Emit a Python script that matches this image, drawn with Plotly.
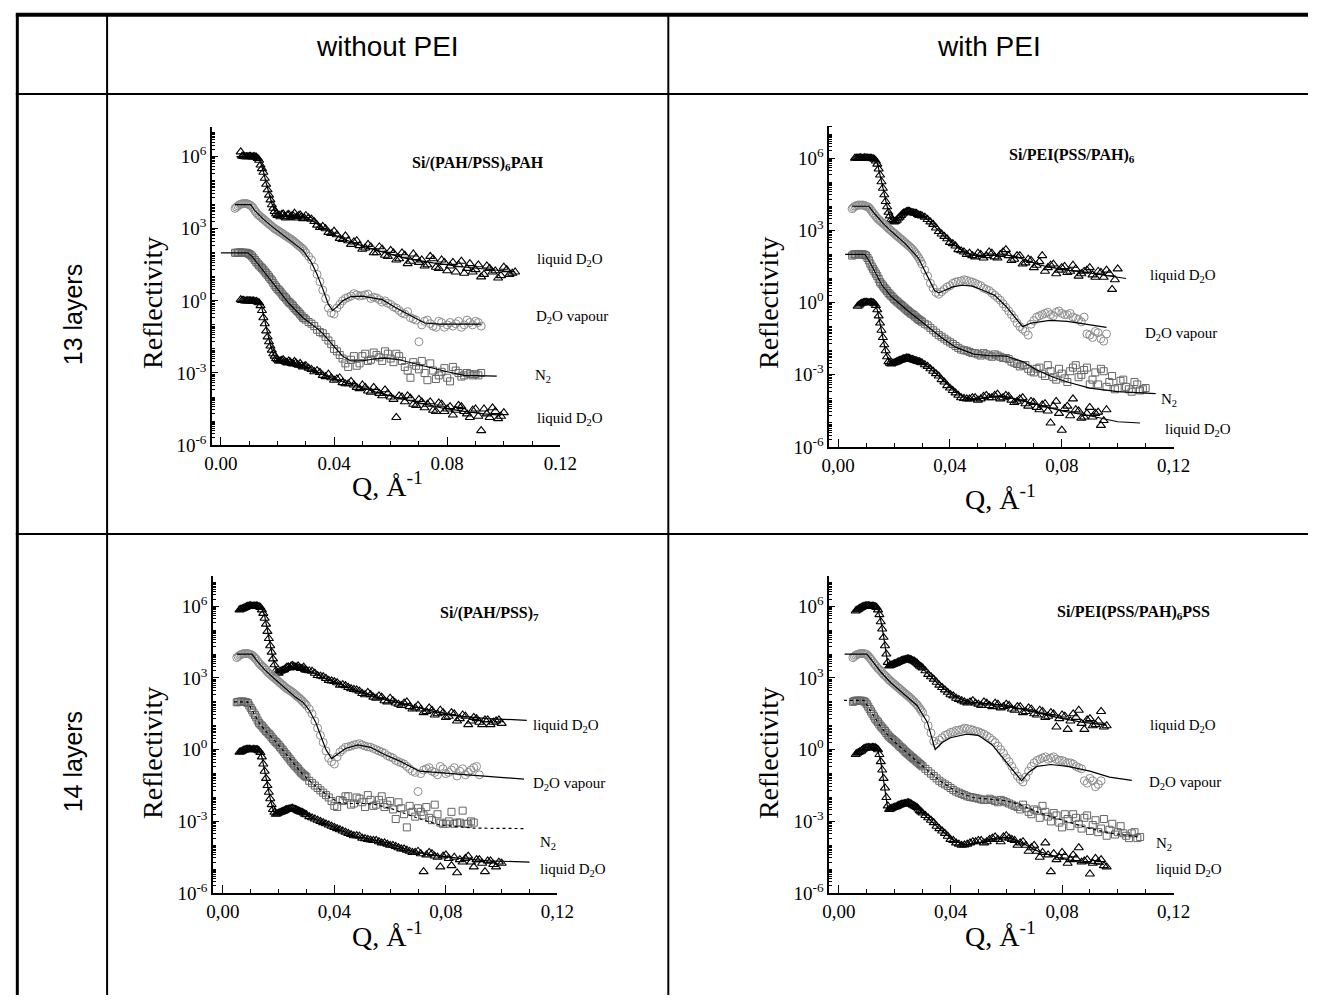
import plotly.graph_objects as go

# ---------------- Q grids (Å^-1) ----------------
Q_LO = [0.005, 0.006, 0.007, 0.008, 0.009, 0.010, 0.011, 0.012, 0.013, 0.014, 0.015, 0.016, 0.017,
        0.018, 0.019, 0.020, 0.021, 0.022, 0.023, 0.024, 0.025, 0.026, 0.027, 0.028, 0.029, 0.030]
Q_HI = [0.032, 0.034, 0.036, 0.038, 0.040, 0.042, 0.044, 0.046, 0.048, 0.050, 0.052, 0.054, 0.056,
        0.058, 0.060, 0.062, 0.064, 0.066, 0.068, 0.070, 0.072, 0.074, 0.076, 0.078, 0.080, 0.082,
        0.084, 0.086, 0.088, 0.090, 0.092, 0.094, 0.096, 0.098, 0.100, 0.102, 0.104, 0.106, 0.108, 0.110]
# second (interleaved) measurement run
Q_LO_B = [0.0055, 0.0065, 0.0075, 0.0085, 0.0095, 0.0105, 0.0115, 0.0125, 0.0135, 0.0145, 0.0155,
          0.0165, 0.0175, 0.0185, 0.0195, 0.0205, 0.0215, 0.0225, 0.0235, 0.0245, 0.0255, 0.0265,
          0.0275, 0.0285, 0.0295]
Q_HI_B = [0.031, 0.033, 0.035, 0.037, 0.039, 0.041, 0.043, 0.045, 0.047, 0.049, 0.051, 0.053, 0.055,
          0.057, 0.059, 0.061, 0.063, 0.065, 0.067, 0.069, 0.071, 0.073, 0.075, 0.077, 0.079, 0.081,
          0.083, 0.085, 0.087, 0.089, 0.091, 0.093, 0.095, 0.097, 0.099, 0.101, 0.103, 0.105, 0.107, 0.109]

# ================= Panel 1: Si/(PAH/PSS)6PAH  (log10 reflectivity) =================
p1_liqA_q0 = 0.007
p1_liqA_lo = [6.2, 6.02, 6.0, 6.01, 5.99, 6.0, 5.93, 5.65, 5.35, 4.85, 4.4, 4.0, 3.72, 3.55, 3.5, 3.62,
              3.45, 3.6, 3.52, 3.65, 3.5, 3.58, 3.42, 3.55]
p1_liqA_hi = [3.4, 3.15, 3.1, 2.85, 2.9, 2.6, 2.7, 2.35, 2.5, 2.15, 2.35, 2.0, 2.25, 1.9, 2.1, 1.7, 2.0,
              1.55, 1.95, 1.6, 1.45, 1.85, 1.4, 1.7, 1.25, 1.6, 1.5, 1.15, 1.55, 1.3, 1.0, 1.45, 1.2,
              0.95, 1.4, 1.1, 1.2]
p1_liqA_q0b = 0.0075
p1_liqA_lob = [6.02, 6.0, 6.0, 6.01, 6.0, 5.98, 5.85, 5.5, 5.1, 4.62, 4.2, 3.85, 3.62, 3.58, 3.6, 3.5,
               3.58, 3.48, 3.55, 3.45, 3.55, 3.5, 3.45]
p1_liqA_hib = [3.45, 3.3, 3.05, 3.0, 2.8, 2.75, 2.55, 2.5, 2.45, 2.3, 2.2, 2.25, 2.0, 2.15, 1.85, 2.0, 1.75,
               1.9, 1.65, 1.8, 1.7, 1.5, 1.75, 1.35, 1.6, 1.45, 1.2, 1.65, 1.35, 1.2, 1.5, 1.1, 1.35, 1.25,
               1.05, 1.3, 1.15]
p1_fitA_q = [0.0055, 0.012, 0.0135, 0.015, 0.016, 0.017, 0.018, 0.019, 0.020, 0.022, 0.026, 0.030, 0.034,
             0.040, 0.047, 0.055, 0.065, 0.075, 0.085, 0.095, 0.104]
p1_fitA_r = [6.0, 6.0, 5.95, 5.4, 4.9, 4.45, 4.05, 3.75, 3.6, 3.55, 3.55, 3.5, 3.2, 2.75, 2.4, 2.1, 1.78,
             1.58, 1.42, 1.3, 1.2]

p1_vap_q0 = 0.005
p1_vap_lo = [3.85, 3.95, 4.02, 4.05, 4.05, 4.0, 3.92, 3.75, 3.6, 3.5, 3.4, 3.3, 3.2, 3.1, 3.0, 2.93, 2.85,
             2.78, 2.7, 2.62, 2.55, 2.45, 2.35, 2.25, 2.15, 2.0]
p1_vap_hi = [1.7, 1.1, 0.45, -0.3, -0.55, -0.15, 0.1, 0.2, 0.25, 0.22, 0.28, 0.15, 0.05, 0.0, -0.15, -0.3,
             -0.5, -0.45, -0.75, -1.7, -0.85, -0.95, -1.1, -0.9, -1.0, -1.05, -0.85, -1.0, -0.9, -0.85, -1.05]
p1_vap_q0b = 0.0055
p1_vap_lob = [3.9, 4.0, 4.04, 4.05, 4.03, 3.97, 3.85, 3.68, 3.55, 3.45, 3.35, 3.25, 3.15, 3.05, 2.97, 2.9,
              2.82, 2.74, 2.66, 2.58, 2.5, 2.4, 2.3, 2.2, 2.08]
p1_vap_hib = [1.85, 1.4, 0.8, 0.1, -0.5, -0.3, 0.0, 0.15, 0.3, 0.2, 0.25, 0.1, 0.12, -0.05, -0.1, -0.25,
              -0.4, -0.55, -0.7, -0.8, -1.0, -0.8, -1.05, -0.85, -1.1, -0.9, -0.95, -1.1, -0.8, -1.0, -0.9]
p1_fitB_q = [0.005, 0.0105, 0.012, 0.015, 0.018, 0.022, 0.026, 0.029, 0.032, 0.034, 0.036, 0.038, 0.0395,
             0.041, 0.043, 0.046, 0.050, 0.057, 0.062, 0.067, 0.072, 0.077, 0.092]
p1_fitB_r = [4.0, 4.0, 3.75, 3.4, 3.1, 2.75, 2.4, 2.1, 1.6, 1.1, 0.5, -0.15, -0.4, -0.25, 0.0, 0.18, 0.2,
             0.05, -0.3, -0.62, -0.92, -0.97, -0.97]

p1_n2_q0 = 0.005
p1_n2_lo = [2.0, 2.0, 2.02, 2.0, 2.0, 1.95, 1.85, 1.7, 1.55, 1.42, 1.3, 1.15, 1.0, 0.85, 0.65, 0.5, 0.38,
            0.22, 0.1, -0.05, -0.15, -0.3, -0.42, -0.55, -0.7, -0.78]
p1_n2_hi = [-0.95, -1.2, -1.35, -1.65, -2.0, -2.25, -2.6, -2.45, -2.7, -2.3, -2.5, -2.15, -2.35, -2.1, -2.4,
            -2.2, -2.5, -2.9, -2.55, -2.85, -3.0, -2.6, -3.25, -2.95, -3.2, -2.75, -3.0, -3.1, -3.05, -3.05, -3.0]
p1_n2_q0b = 0.0055
p1_n2_lob = [2.0, 2.01, 2.0, 2.0, 1.98, 1.9, 1.78, 1.62, 1.48, 1.36, 1.22, 1.08, 0.92, 0.75, 0.58, 0.44,
             0.3, 0.16, 0.02, -0.1, -0.22, -0.36, -0.48, -0.62, -0.72]
p1_n2_hib = [-0.88, -1.05, -1.3, -1.5, -1.8, -2.1, -2.4, -2.75, -2.3, -2.6, -2.2, -2.45, -2.25, -2.5, -2.2,
             -2.55, -2.3, -2.75, -3.2, -2.7, -2.5, -3.3, -2.9, -3.1, -2.8, -3.35, -2.9, -3.15, -3.0, -3.1, -3.1]
p1_fitC_q = [0.0, 0.0095, 0.011, 0.013, 0.016, 0.020, 0.024, 0.029, 0.033, 0.036, 0.040, 0.043, 0.046,
             0.050, 0.054, 0.058, 0.063, 0.068, 0.074, 0.080, 0.086, 0.0975]
p1_fitC_r = [2.0, 2.0, 1.85, 1.55, 1.15, 0.5, -0.1, -0.7, -1.05, -1.35, -1.9, -2.3, -2.5, -2.5, -2.42,
             -2.38, -2.45, -2.6, -2.78, -2.95, -3.1, -3.13]

p1_liqD_q0 = 0.007
p1_liqD_lo = [0.05, 0.02, 0.0, 0.01, 0.0, -0.02, -0.05, -0.2, -0.7, -1.25, -1.7, -2.05, -2.3, -2.45, -2.5,
              -2.45, -2.55, -2.5, -2.6, -2.52, -2.65, -2.6, -2.75, -2.7]
p1_liqD_hi = [-2.85, -2.9, -3.1, -3.05, -3.3, -3.2, -3.45, -3.35, -3.6, -3.5, -3.75, -3.6, -3.85, -3.7, -4.0,
              -4.85, -4.0, -3.95, -4.3, -4.1, -4.45, -4.2, -4.6, -4.3, -4.5, -4.75, -4.35, -4.6, -4.85, -4.5,
              -5.4, -4.7, -4.45, -4.9, -4.65]
p1_liqD_q0b = 0.0075
p1_liqD_lob = [0.02, 0.0, 0.01, 0.0, 0.0, -0.02, -0.08, -0.4, -0.95, -1.5, -1.88, -2.2, -2.4, -2.5, -2.48,
               -2.52, -2.58, -2.55, -2.62, -2.58, -2.68, -2.7, -2.72]
p1_liqD_hib = [-2.8, -2.95, -2.98, -3.15, -3.2, -3.25, -3.4, -3.45, -3.5, -3.65, -3.6, -3.8, -3.75, -3.95,
               -3.85, -4.1, -3.95, -4.2, -4.05, -4.35, -4.2, -4.3, -4.55, -4.25, -4.6, -4.4, -4.55, -4.4,
               -4.7, -4.55, -4.8, -4.5, -4.85, -4.6, -4.8]
p1_fitD_q = [0.0065, 0.0135, 0.0145, 0.0155, 0.0165, 0.0175, 0.0185, 0.0195, 0.021, 0.024, 0.027, 0.030,
             0.035, 0.040, 0.047, 0.055, 0.063, 0.070, 0.078, 0.086, 0.093, 0.099]
p1_fitD_r = [0.0, 0.0, -0.3, -0.85, -1.4, -1.85, -2.2, -2.4, -2.5, -2.55, -2.62, -2.75, -3.0, -3.25, -3.5,
             -3.8, -4.05, -4.25, -4.45, -4.6, -4.7, -4.75]

# ================= Panel 2: Si/PEI(PSS/PAH)6 =================
p2_liqA_q0 = 0.006
p2_liqA_lo = [6.0, 6.0, 6.02, 6.0, 6.01, 6.0, 5.99, 5.95, 5.75, 5.3, 4.75, 4.2, 3.75, 3.45, 3.35, 3.42,
              3.55, 3.68, 3.75, 3.8, 3.76, 3.72, 3.7, 3.62, 3.6]
p2_liqA_hi = [3.45, 3.25, 2.95, 2.75, 2.5, 2.35, 2.15, 2.0, 1.95, 2.05, 1.85, 2.1, 1.9, 2.0, 2.2, 1.75, 1.95,
              1.6, 1.8, 1.45, 1.7, 1.3, 1.55, 1.2, 1.45, 1.25, 1.55, 1.1, 1.3, 1.45, 1.05, 1.25, 1.35, 0.55,
              1.4]
p2_liqA_q0b = 0.0065
p2_liqA_lob = [6.0, 6.01, 6.0, 6.02, 6.0, 6.0, 5.98, 5.88, 5.55, 5.02, 4.48, 3.98, 3.6, 3.4, 3.38, 3.5,
               3.62, 3.72, 3.78, 3.79, 3.74, 3.71, 3.66, 3.62]
p2_liqA_hib = [3.55, 3.35, 3.1, 2.85, 2.65, 2.45, 2.2, 2.1, 2.05, 1.9, 2.0, 1.95, 2.05, 1.85, 2.1, 1.95, 1.8,
               1.95, 1.65, 1.75, 1.55, 1.95, 1.45, 1.6, 1.35, 1.5, 1.3, 1.4, 1.2, 1.35, 1.15, 1.3, 1.05, 1.2,
               0.95]
p2_fitA_q = [0.006, 0.013, 0.014, 0.015, 0.016, 0.017, 0.018, 0.019, 0.020, 0.022, 0.024, 0.026, 0.029,
             0.032, 0.035, 0.038, 0.0415, 0.045, 0.048, 0.052, 0.056, 0.060, 0.064, 0.068, 0.072, 0.080,
             0.090, 0.103]
p2_fitA_r = [6.0, 6.0, 5.8, 5.3, 4.75, 4.2, 3.75, 3.45, 3.38, 3.55, 3.72, 3.78, 3.7, 3.45, 3.1, 2.75, 2.4,
             2.1, 1.98, 1.95, 1.97, 1.98, 1.9, 1.72, 1.56, 1.38, 1.23, 1.0]

p2_vap_q0 = 0.005
p2_vap_lo = [3.9, 4.0, 4.05, 4.05, 4.05, 4.0, 3.95, 3.8, 3.65, 3.5, 3.4, 3.3, 3.2, 3.08, 2.98, 2.88, 2.78,
             2.68, 2.58, 2.48, 2.38, 2.28, 2.15, 2.0, 1.82, 1.6]
p2_vap_hi = [1.1, 0.6, 0.35, 0.55, 0.7, 0.85, 0.9, 0.92, 0.85, 0.75, 0.6, 0.5, 0.3, 0.1, -0.2, -0.5, -0.85,
             -1.1, -1.35, -0.75, -0.55, -0.45, -0.5, -0.4, -0.45, -0.5, -0.6, -0.7, -0.6, -1.35, -1.2, -1.5,
             -1.3]
p2_vap_q0b = 0.0055
p2_vap_lob = [3.95, 4.02, 4.05, 4.05, 4.03, 3.98, 3.88, 3.72, 3.58, 3.45, 3.35, 3.25, 3.14, 3.03, 2.93,
              2.83, 2.73, 2.63, 2.53, 2.43, 2.33, 2.22, 2.08, 1.92, 1.72]
p2_vap_hib = [1.35, 0.8, 0.42, 0.45, 0.65, 0.8, 0.88, 0.95, 0.88, 0.8, 0.7, 0.55, 0.4, 0.2, -0.05, -0.35,
              -0.65, -1.0, -1.2, -0.9, -0.6, -0.5, -0.4, -0.55, -0.35, -0.5, -0.45, -0.65, -0.8, -1.3, -1.45,
              -1.25, -1.6]
p2_fitB_q = [0.005, 0.011, 0.013, 0.016, 0.019, 0.024, 0.0287, 0.031, 0.033, 0.0345, 0.036, 0.038, 0.041,
             0.0445, 0.048, 0.052, 0.056, 0.060, 0.063, 0.066, 0.069, 0.0757, 0.082, 0.089, 0.096]
p2_fitB_r = [4.0, 4.0, 3.7, 3.3, 2.96, 2.45, 1.85, 1.35, 0.85, 0.5, 0.4, 0.5, 0.65, 0.72, 0.68, 0.5, 0.3,
             -0.15, -0.6, -1.0, -0.85, -0.74, -0.78, -0.9, -1.03]

p2_n2_q0 = 0.005
p2_n2_lo = [1.95, 2.0, 2.02, 2.0, 2.0, 1.95, 1.75, 1.5, 1.3, 1.1, 0.85, 0.7, 0.55, 0.4, 0.28, 0.15, 0.05,
            -0.05, -0.15, -0.25, -0.35, -0.45, -0.52, -0.62, -0.72, -0.8]
p2_n2_hi = [-0.95, -1.15, -1.35, -1.5, -1.65, -1.8, -1.95, -2.0, -2.1, -2.15, -2.1, -2.2, -2.15, -2.25, -2.3,
            -2.45, -2.55, -2.6, -2.75, -2.9, -2.7, -3.05, -2.85, -3.2, -2.95, -3.3, -2.7, -3.1, -2.8, -3.4,
            -2.9, -2.75, -3.5, -3.05, -3.55, -3.2, -3.6, -3.3, -3.65, -3.55]
p2_n2_q0b = 0.0055
p2_n2_lob = [2.0, 2.01, 2.0, 2.01, 1.98, 1.85, 1.62, 1.4, 1.2, 0.98, 0.78, 0.62, 0.48, 0.34, 0.22, 0.1, 0.0,
             -0.1, -0.2, -0.3, -0.4, -0.48, -0.58, -0.68, -0.75]
p2_n2_hib = [-0.88, -1.05, -1.25, -1.42, -1.58, -1.72, -1.88, -1.98, -2.05, -2.1, -2.2, -2.15, -2.25, -2.2,
             -2.3, -2.35, -2.5, -2.65, -2.6, -2.85, -2.75, -2.95, -2.6, -3.1, -2.75, -3.15, -2.85, -2.6, -3.0,
             -2.7, -3.2, -3.4, -2.85, -3.3, -3.6, -3.25, -3.5, -3.7, -3.4, -3.6]
p2_fitC_q = [0.0025, 0.0096, 0.011, 0.013, 0.0156, 0.019, 0.025, 0.031, 0.0368, 0.042, 0.0485, 0.054,
             0.060, 0.066, 0.071, 0.077, 0.082, 0.090, 0.100, 0.1136]
p2_fitC_r = [2.0, 2.0, 1.75, 1.3, 0.74, 0.25, -0.35, -0.9, -1.44, -1.85, -2.14, -2.2, -2.22, -2.45, -2.8,
             -3.1, -3.3, -3.55, -3.7, -3.78]

p2_liqD_q0 = 0.007
p2_liqD_lo = [-0.15, -0.05, 0.0, 0.02, 0.0, 0.01, -0.05, -0.3, -0.85, -1.45, -2.0, -2.45, -2.55, -2.5, -2.45,
              -2.4, -2.35, -2.32, -2.3, -2.35, -2.38, -2.42, -2.45, -2.5]
p2_liqD_hi = [-2.65, -2.85, -3.05, -3.3, -3.55, -3.75, -3.95, -4.0, -3.95, -4.05, -3.9, -3.95, -3.85, -4.0,
              -3.85, -4.05, -4.1, -3.95, -4.3, -4.15, -4.45, -4.2, -5.0, -4.1, -5.3, -4.3, -4.0, -4.5, -4.75,
              -4.35, -4.6, -5.1, -4.45]
p2_liqD_q0b = 0.0075
p2_liqD_lob = [-0.1, -0.02, 0.01, 0.0, 0.01, 0.0, -0.12, -0.55, -1.15, -1.75, -2.25, -2.52, -2.52, -2.48,
               -2.42, -2.38, -2.33, -2.3, -2.32, -2.36, -2.4, -2.44, -2.48]
p2_liqD_hib = [-2.58, -2.75, -2.95, -3.2, -3.45, -3.65, -3.85, -3.98, -4.0, -3.95, -4.0, -3.85, -3.95, -3.8,
               -3.95, -3.9, -4.15, -4.0, -4.2, -4.1, -4.35, -4.25, -4.5, -4.3, -4.6, -4.4, -4.7, -4.45, -4.8,
               -4.6, -4.75, -4.55, -4.9]
p2_fitD_q = [0.0067, 0.013, 0.014, 0.015, 0.016, 0.017, 0.0184, 0.020, 0.0225, 0.025, 0.028, 0.032, 0.036,
             0.0415, 0.046, 0.050, 0.055, 0.060, 0.065, 0.072, 0.080, 0.090, 0.100, 0.108]
p2_fitD_r = [0.0, 0.0, -0.3, -0.9, -1.5, -2.05, -2.5, -2.5, -2.38, -2.33, -2.4, -2.65, -3.05, -3.65, -3.98,
             -4.0, -3.9, -3.9, -4.05, -4.25, -4.5, -4.7, -4.95, -5.0]

# ================= Panel 3: Si/(PAH/PSS)7 =================
p3_liqA_q0 = 0.006
p3_liqA_lo = [5.85, 5.9, 5.95, 6.0, 6.02, 6.0, 6.01, 5.98, 5.85, 5.5, 4.95, 4.35, 3.8, 3.3, 3.2, 3.3, 3.35,
              3.45, 3.42, 3.52, 3.45, 3.5, 3.4, 3.45, 3.32]
p3_liqA_hi = [3.28, 3.1, 3.05, 2.9, 2.85, 2.7, 2.68, 2.55, 2.5, 2.35, 2.4, 2.2, 2.25, 2.05, 2.15, 1.95, 1.85,
              2.0, 1.7, 1.85, 1.55, 1.75, 1.45, 1.65, 1.35, 1.55, 1.2, 1.45, 1.05, 1.35, 1.15, 1.25, 1.05,
              1.2, 1.1]
p3_liqA_q0b = 0.0065
p3_liqA_lob = [5.88, 5.92, 5.98, 6.01, 6.0, 6.01, 6.0, 5.95, 5.7, 5.25, 4.65, 4.08, 3.55, 3.22, 3.28, 3.32,
               3.4, 3.46, 3.5, 3.48, 3.45, 3.43, 3.4, 3.35]
p3_liqA_hib = [3.3, 3.2, 3.08, 2.98, 2.88, 2.8, 2.72, 2.6, 2.52, 2.45, 2.3, 2.3, 2.15, 2.2, 2.0, 2.05, 1.9,
               1.95, 1.8, 1.75, 1.7, 1.6, 1.65, 1.5, 1.55, 1.4, 1.5, 1.3, 1.4, 1.2, 1.3, 1.05, 1.25, 1.15,
               1.25]
p3_fitA_q = [0.0055, 0.0137, 0.015, 0.016, 0.017, 0.018, 0.0193, 0.021, 0.023, 0.025, 0.028, 0.032, 0.036,
             0.042, 0.0474, 0.055, 0.065, 0.0755, 0.085, 0.095, 0.109]
p3_fitA_r = [6.0, 6.0, 5.6, 5.0, 4.4, 3.8, 3.25, 3.3, 3.42, 3.5, 3.42, 3.25, 3.02, 2.75, 2.5, 2.2, 1.9, 1.6,
             1.4, 1.3, 1.23]

p3_vap_q0 = 0.005
p3_vap_lo = [3.85, 3.95, 4.0, 4.02, 4.02, 3.98, 3.9, 3.78, 3.62, 3.5, 3.4, 3.25, 3.15, 3.05, 2.95, 2.85,
             2.75, 2.65, 2.55, 2.48, 2.4, 2.3, 2.2, 2.1, 1.98, 1.85]
p3_vap_hi = [1.5, 0.9, 0.3, -0.35, -0.6, -0.1, 0.1, 0.15, 0.22, 0.2, 0.12, 0.05, -0.05, -0.15, -0.3, -0.45,
             -0.55, -0.7, -0.9, -1.75, -0.85, -0.75, -0.95, -0.7, -1.0, -0.85, -1.1, -0.8, -0.95, -0.75, -1.05]
p3_vap_q0b = 0.0055
p3_vap_lob = [3.9, 3.98, 4.02, 4.02, 4.0, 3.95, 3.84, 3.7, 3.56, 3.45, 3.33, 3.2, 3.1, 3.0, 2.9, 2.8, 2.7,
              2.6, 2.52, 2.44, 2.35, 2.25, 2.15, 2.04, 1.92]
p3_vap_hib = [1.7, 1.2, 0.6, -0.05, -0.5, -0.3, 0.0, 0.12, 0.2, 0.25, 0.15, 0.1, 0.0, -0.1, -0.25, -0.35,
              -0.5, -0.6, -0.8, -0.95, -1.0, -0.8, -0.9, -1.05, -0.8, -0.95, -0.75, -0.9, -1.05, -0.85, -0.7]
p3_fitB_q = [0.005, 0.0105, 0.012, 0.015, 0.018, 0.022, 0.026, 0.0288, 0.031, 0.0333, 0.035, 0.037, 0.039,
             0.041, 0.044, 0.0484, 0.053, 0.058, 0.0639, 0.0705, 0.081, 0.095, 0.108]
p3_fitB_r = [4.0, 4.0, 3.75, 3.35, 3.02, 2.6, 2.2, 1.98, 1.65, 1.15, 0.6, 0.0, -0.37, -0.2, 0.05, 0.2, 0.1,
             -0.2, -0.5, -0.9, -0.99, -1.12, -1.23]

p3_n2_q0 = 0.005
p3_n2_lo = [1.98, 2.0, 2.02, 2.0, 1.95, 1.75, 1.55, 1.35, 1.12, 1.0, 0.85, 0.72, 0.6, 0.45, 0.32, 0.2, 0.05,
            -0.1, -0.25, -0.4, -0.55, -0.68, -0.8, -0.95, -1.05, -1.15]
p3_n2_hi = [-1.4, -1.6, -1.8, -2.0, -2.35, -2.1, -1.95, -2.3, -2.0, -2.2, -1.9, -2.35, -2.1, -2.4, -2.15,
            -2.9, -2.45, -3.25, -2.6, -2.45, -2.75, -2.85, -2.3, -3.05, -3.1, -2.6, -3.05, -2.55, -3.1, -3.05]
p3_n2_q0b = 0.0055
p3_n2_lob = [2.0, 2.01, 2.0, 1.98, 1.85, 1.65, 1.45, 1.22, 1.05, 0.92, 0.78, 0.66, 0.52, 0.38, 0.26, 0.12,
             -0.02, -0.18, -0.32, -0.48, -0.62, -0.74, -0.88, -1.0, -1.1]
p3_n2_hib = [-1.3, -1.5, -1.7, -1.9, -2.15, -2.4, -2.15, -1.95, -2.25, -2.05, -2.4, -2.1, -2.3, -1.95, -2.3,
             -2.5, -2.2, -2.7, -2.35, -2.8, -2.6, -2.4, -2.95, -2.7, -3.1, -3.0, -3.1, -3.05, -3.1, -3.0]
p3_fitC_q = [0.004, 0.0088, 0.011, 0.0134, 0.016, 0.019, 0.0235, 0.0284, 0.032, 0.0354, 0.0385, 0.0414,
             0.045, 0.050, 0.055, 0.060, 0.066, 0.072, 0.078, 0.090, 0.108]
p3_fitC_r = [2.0, 2.0, 1.55, 1.05, 0.7, 0.33, -0.3, -1.0, -1.4, -1.73, -2.0, -2.2, -2.25, -2.25, -2.3, -2.45,
             -2.7, -2.95, -3.15, -3.28, -3.3]

p3_liqD_q0 = 0.006
p3_liqD_lo = [-0.1, -0.05, 0.0, 0.02, 0.0, 0.01, 0.0, -0.05, -0.3, -0.9, -1.5, -2.05, -2.5, -2.7, -2.65,
              -2.6, -2.55, -2.5, -2.48, -2.45, -2.5, -2.55, -2.6, -2.65, -2.72]
p3_liqD_hi = [-2.85, -2.95, -3.05, -3.15, -3.25, -3.35, -3.45, -3.55, -3.6, -3.7, -3.75, -3.8, -3.85, -3.9,
              -4.0, -4.05, -4.15, -4.2, -4.3, -4.25, -5.1, -4.3, -4.45, -4.9, -4.4, -4.85, -5.15, -4.7, -4.45,
              -4.9, -4.6, -5.1, -4.65, -4.9, -4.75]
p3_liqD_q0b = 0.0065
p3_liqD_lob = [-0.08, -0.02, 0.01, 0.02, 0.0, 0.01, 0.0, -0.12, -0.6, -1.2, -1.78, -2.3, -2.62, -2.68, -2.62,
               -2.58, -2.52, -2.49, -2.46, -2.48, -2.52, -2.58, -2.62, -2.7]
p3_liqD_hib = [-2.8, -2.9, -3.0, -3.1, -3.2, -3.3, -3.4, -3.5, -3.6, -3.62, -3.72, -3.78, -3.8, -3.9, -3.95,
               -4.0, -4.1, -4.15, -4.25, -4.3, -4.35, -4.4, -4.35, -4.5, -4.45, -4.55, -4.5, -4.6, -4.55,
               -4.7, -4.6, -4.75, -4.65, -4.8, -4.7]
p3_fitD_q = [0.0055, 0.013, 0.014, 0.015, 0.016, 0.017, 0.018, 0.019, 0.021, 0.023, 0.025, 0.028, 0.032,
             0.0358, 0.041, 0.047, 0.053, 0.059, 0.068, 0.075, 0.085, 0.095, 0.110]
p3_fitD_r = [0.0, 0.0, -0.3, -0.9, -1.5, -2.05, -2.5, -2.67, -2.6, -2.5, -2.47, -2.6, -2.85, -3.05, -3.3,
             -3.6, -3.75, -3.9, -4.25, -4.4, -4.55, -4.65, -4.7]

# ================= Panel 4: Si/PEI(PSS/PAH)6PSS =================
p4_liqA_q0 = 0.006
p4_liqA_lo = [5.8, 5.88, 5.95, 6.0, 6.02, 6.01, 6.0, 5.98, 5.85, 5.35, 4.7, 4.0, 3.5, 3.55, 3.6, 3.65, 3.7,
              3.75, 3.78, 3.8, 3.75, 3.7, 3.62, 3.5, 3.42]
p4_liqA_hi = [3.15, 2.95, 2.7, 2.5, 2.3, 2.15, 2.05, 1.95, 2.05, 1.9, 2.0, 1.85, 1.95, 1.75, 1.9, 1.7, 1.8,
              1.55, 1.75, 1.5, 1.65, 1.35, 1.55, 0.95, 1.45, 0.85, 1.5, 1.65, 0.85, 1.3, 1.05, 1.6, 1.0]
p4_liqA_q0b = 0.0065
p4_liqA_lob = [5.85, 5.92, 5.98, 6.01, 6.02, 6.0, 6.0, 5.95, 5.65, 5.05, 4.35, 3.65, 3.52, 3.58, 3.62, 3.68,
               3.72, 3.76, 3.8, 3.78, 3.72, 3.66, 3.56, 3.46]
p4_liqA_hib = [3.3, 3.05, 2.82, 2.6, 2.4, 2.25, 2.1, 2.0, 2.0, 1.95, 1.85, 1.95, 1.8, 1.9, 1.8, 1.85, 1.65,
               1.8, 1.6, 1.7, 1.45, 1.6, 1.4, 1.5, 1.3, 1.4, 1.2, 1.35, 1.1, 1.25, 1.0, 1.2, 0.95]
p4_fitA_q = [0.0063, 0.008, 0.0137, 0.015, 0.016, 0.017, 0.0176, 0.019, 0.0215, 0.0246, 0.028, 0.0317,
             0.036, 0.041, 0.045, 0.048, 0.054, 0.060, 0.065, 0.0704, 0.078, 0.087, 0.096]
p4_fitA_r = [5.85, 6.0, 6.0, 5.4, 4.75, 4.0, 3.5, 3.55, 3.7, 3.8, 3.6, 3.2, 2.7, 2.26, 2.05, 1.98, 1.9,
             1.85, 1.72, 1.56, 1.35, 1.15, 1.03]

p4_vap_q0 = 0.005
p4_vap_lo = [3.85, 3.95, 4.0, 4.02, 4.02, 3.98, 3.85, 3.7, 3.55, 3.4, 3.3, 3.15, 3.05, 2.92, 2.82, 2.72,
             2.62, 2.52, 2.42, 2.32, 2.22, 2.12, 2.0, 1.88, 1.72, 1.55]
p4_vap_hi = [1.0, 0.35, 0.4, 0.6, 0.72, 0.8, 0.85, 0.88, 0.82, 0.75, 0.65, 0.5, 0.3, 0.0, -0.35, -0.7, -1.1,
             -1.35, -0.9, -0.55, -0.4, -0.3, -0.35, -0.4, -0.45, -0.55, -0.6, -0.75, -1.3, -1.2, -1.55,
             -1.3]
p4_vap_q0b = 0.0055
p4_vap_lob = [3.9, 3.98, 4.02, 4.02, 4.0, 3.92, 3.78, 3.62, 3.48, 3.35, 3.22, 3.1, 2.98, 2.87, 2.77, 2.67,
              2.57, 2.47, 2.37, 2.27, 2.17, 2.06, 1.94, 1.8, 1.64]
p4_vap_hib = [1.3, 0.7, 0.25, 0.5, 0.65, 0.75, 0.82, 0.9, 0.85, 0.78, 0.7, 0.58, 0.4, 0.15, -0.15, -0.5,
              -0.9, -1.25, -1.15, -0.7, -0.45, -0.35, -0.4, -0.3, -0.45, -0.5, -0.55, -0.7, -0.8, -1.4, -1.3,
              -1.45]
p4_fitB_q = [0.002, 0.010, 0.012, 0.015, 0.0186, 0.023, 0.028, 0.0317, 0.033, 0.0345, 0.037, 0.040, 0.0457,
             0.050, 0.055, 0.060, 0.063, 0.0655, 0.068, 0.071, 0.076, 0.082, 0.090, 0.097, 0.105]
p4_fitB_r = [4.0, 4.0, 3.7, 3.25, 2.8, 2.35, 1.85, 1.15, 0.6, 0.0, 0.3, 0.5, 0.65, 0.6, 0.2, -0.49, -0.95,
             -1.3, -0.95, -0.7, -0.62, -0.7, -0.9, -1.15, -1.28]

p4_n2_q0 = 0.005
p4_n2_lo = [2.0, 2.05, 2.05, 2.05, 2.02, 1.9, 1.7, 1.5, 1.3, 1.15, 0.98, 0.85, 0.7, 0.55, 0.45, 0.35, 0.25,
            0.12, 0.02, -0.1, -0.2, -0.3, -0.4, -0.5, -0.6, -0.7]
p4_n2_hi = [-0.9, -1.1, -1.3, -1.45, -1.6, -1.75, -1.85, -1.95, -2.0, -2.05, -2.1, -2.05, -2.15, -2.1, -2.2,
            -2.3, -2.4, -2.3, -2.6, -2.5, -2.85, -2.6, -3.0, -2.75, -3.25, -2.9, -2.7, -3.1, -2.85, -3.4,
            -2.95, -3.3, -3.6, -3.1, -3.45, -3.5, -3.7, -3.45, -3.65]
p4_n2_q0b = 0.0055
p4_n2_lob = [2.03, 2.05, 2.05, 2.04, 1.98, 1.8, 1.6, 1.4, 1.22, 1.06, 0.92, 0.78, 0.62, 0.5, 0.4, 0.3, 0.18,
             0.08, -0.04, -0.15, -0.25, -0.35, -0.45, -0.55, -0.65]
p4_n2_hib = [-0.8, -1.0, -1.2, -1.38, -1.52, -1.68, -1.8, -1.9, -1.98, -2.02, -2.08, -2.1, -2.1, -2.2, -2.15,
             -2.25, -2.35, -2.5, -2.45, -2.7, -2.55, -2.35, -2.8, -2.65, -3.05, -2.7, -3.2, -2.85, -3.3,
             -2.75, -3.15, -3.45, -2.9, -3.35, -3.55, -3.2, -3.6, -3.5, -3.7]
p4_fitC_q = [0.0018, 0.009, 0.012, 0.015, 0.0187, 0.023, 0.028, 0.0362, 0.042, 0.048, 0.054, 0.060, 0.065,
             0.070, 0.076, 0.083, 0.090, 0.098, 0.108]
p4_fitC_r = [2.06, 2.06, 1.5, 0.95, 0.45, 0.0, -0.49, -1.3, -1.75, -2.0, -2.08, -2.14, -2.3, -2.55, -2.8,
             -3.05, -3.3, -3.5, -3.66]

p4_liqD_q0 = 0.006
p4_liqD_lo = [-0.2, -0.12, -0.05, 0.05, 0.08, 0.08, 0.1, 0.08, 0.0, -0.5, -1.2, -2.0, -2.5, -2.45, -2.4,
              -2.35, -2.3, -2.27, -2.25, -2.22, -2.28, -2.35, -2.42, -2.55, -2.65]
p4_liqD_hi = [-2.85, -3.05, -3.3, -3.5, -3.75, -3.9, -4.0, -3.95, -3.85, -3.8, -3.9, -3.75, -3.65, -3.85,
              -3.6, -3.75, -4.0, -3.85, -4.25, -4.0, -4.5, -3.9, -5.1, -4.6, -4.3, -4.75, -4.4, -4.1, -4.65,
              -5.2, -4.55, -4.6, -4.9]
p4_liqD_q0b = 0.0065
p4_liqD_lob = [-0.15, -0.08, 0.0, 0.06, 0.09, 0.08, 0.09, 0.05, -0.2, -0.85, -1.6, -2.35, -2.48, -2.42,
               -2.38, -2.32, -2.28, -2.26, -2.23, -2.25, -2.32, -2.38, -2.48, -2.6]
p4_liqD_hib = [-2.75, -2.95, -3.2, -3.4, -3.62, -3.8, -3.95, -3.98, -3.9, -3.85, -3.8, -3.85, -3.7, -3.75,
               -3.65, -3.7, -3.8, -3.9, -4.0, -4.1, -4.25, -4.3, -4.4, -4.35, -4.5, -4.45, -4.6, -4.55, -4.7,
               -4.6, -4.75, -4.7, -4.85]
p4_fitD_q = [0.0056, 0.009, 0.0137, 0.015, 0.016, 0.0176, 0.020, 0.0246, 0.028, 0.0317, 0.036, 0.041,
             0.0457, 0.050, 0.055, 0.060, 0.065, 0.0704, 0.078, 0.086, 0.095]
p4_fitD_r = [-0.2, 0.08, 0.08, -0.5, -1.3, -2.55, -2.38, -2.22, -2.4, -2.84, -3.3, -3.79, -3.99, -3.9,
             -3.72, -3.66, -3.85, -4.2, -4.5, -4.7, -4.8]

# ---------------- text ----------------
col_headers = ["without PEI", "with PEI"]
row_headers = ["13 layers", "14 layers"]
panel_titles = ["Si/(PAH/PSS)<sub>6</sub>PAH", "Si/PEI(PSS/PAH)<sub>6</sub>",
                "Si/(PAH/PSS)<sub>7</sub>", "Si/PEI(PSS/PAH)<sub>6</sub>PSS"]
liq = "liquid D<sub>2</sub>O"
vap = "D<sub>2</sub>O vapour"
n2 = "N<sub>2</sub>"
x_tick_vals = [0.0, 0.04, 0.08, 0.12]
x_tick_dot = ["0.00", "0.04", "0.08", "0.12"]
x_tick_comma = ["0,00", "0,04", "0,08", "0,12"]
y_tick_exps = [-6, -3, 0, 3, 6]

# ---------------- layout geometry (pixels) ----------------
W, H = 1325, 1006
SERIF = "Liberation Serif, Times New Roman, serif"
SANS = "Liberation Sans, Arial, sans-serif"


def fx(px):
    return px / W


def fy(py):
    return 1 - py / H


def ser(q0, lo, hi, q0b, lob, hib, kind):
    return dict(q0=q0, lo=lo, hi=hi, q0b=q0b, lob=lob, hib=hib, kind=kind)


panels = [
    dict(xd=(208, 563), yd=(128, 450), xr=-0.00313, yt=7.25, ticks=x_tick_dot,
         series=[ser(p1_liqA_q0, p1_liqA_lo, p1_liqA_hi, p1_liqA_q0b, p1_liqA_lob, p1_liqA_hib, "tri"),
                 ser(p1_vap_q0, p1_vap_lo, p1_vap_hi, p1_vap_q0b, p1_vap_lob, p1_vap_hib, "circ"),
                 ser(p1_n2_q0, p1_n2_lo, p1_n2_hi, p1_n2_q0b, p1_n2_lob, p1_n2_hib, "sq"),
                 ser(p1_liqD_q0, p1_liqD_lo, p1_liqD_hi, p1_liqD_q0b, p1_liqD_lob, p1_liqD_hib, "tri")],
         fits=[(p1_fitA_q, p1_fitA_r, "solid"), (p1_fitB_q, p1_fitB_r, "solid"),
               (p1_fitC_q, p1_fitC_r, "solid"), (p1_fitD_q, p1_fitD_r, "solid")],
         title=(panel_titles[0], 410, 165),
         labels=[(liq, 537, 263), (vap, 536, 320), (n2, 535, 380), (liq, 537, 424)],
         ylab=(147, 306), xlab=(387, 490)),
    dict(xd=(837, 1188), yd=(127, 452), xr=-0.0032, yt=7.35, ticks=x_tick_comma,
         series=[ser(p2_liqA_q0, p2_liqA_lo, p2_liqA_hi, p2_liqA_q0b, p2_liqA_lob, p2_liqA_hib, "tri"),
                 ser(p2_vap_q0, p2_vap_lo, p2_vap_hi, p2_vap_q0b, p2_vap_lob, p2_vap_hib, "circ"),
                 ser(p2_n2_q0, p2_n2_lo, p2_n2_hi, p2_n2_q0b, p2_n2_lob, p2_n2_hib, "sq"),
                 ser(p2_liqD_q0, p2_liqD_lo, p2_liqD_hi, p2_liqD_q0b, p2_liqD_lob, p2_liqD_hib, "tri")],
         fits=[(p2_fitA_q, p2_fitA_r, "solid"), (p2_fitB_q, p2_fitB_r, "solid"),
               (p2_fitC_q, p2_fitC_r, "solid"), (p2_fitD_q, p2_fitD_r, "solid")],
         title=(panel_titles[1], 1018, 157),
         labels=[(liq, 1162, 279), (vap, 1157, 338), (n2, 1173, 404), (liq, 1177, 435)],
         ylab=(775, 306), xlab=(1012, 503)),
    dict(xd=(209, 560), yd=(582, 903), xr=-0.0035, yt=7.28, ticks=x_tick_comma,
         series=[ser(p3_liqA_q0, p3_liqA_lo, p3_liqA_hi, p3_liqA_q0b, p3_liqA_lob, p3_liqA_hib, "tri"),
                 ser(p3_vap_q0, p3_vap_lo, p3_vap_hi, p3_vap_q0b, p3_vap_lob, p3_vap_hib, "circ"),
                 ser(p3_n2_q0, p3_n2_lo, p3_n2_hi, p3_n2_q0b, p3_n2_lob, p3_n2_hib, "sq"),
                 ser(p3_liqD_q0, p3_liqD_lo, p3_liqD_hi, p3_liqD_q0b, p3_liqD_lob, p3_liqD_hib, "tri")],
         fits=[(p3_fitA_q, p3_fitA_r, "solid"), (p3_fitB_q, p3_fitB_r, "solid"),
               (p3_fitC_q, p3_fitC_r, "dot"), (p3_fitD_q, p3_fitD_r, "solid")],
         title=(panel_titles[2], 438, 620),
         labels=[(liq, 533, 734), (vap, 533, 793), (n2, 540, 852), (liq, 540, 880)],
         ylab=(147, 761), xlab=(387, 945)),
    dict(xd=(837, 1188), yd=(582, 903), xr=-0.0035, yt=7.28, ticks=x_tick_comma,
         series=[ser(p4_liqA_q0, p4_liqA_lo, p4_liqA_hi, p4_liqA_q0b, p4_liqA_lob, p4_liqA_hib, "tri"),
                 ser(p4_vap_q0, p4_vap_lo, p4_vap_hi, p4_vap_q0b, p4_vap_lob, p4_vap_hib, "circ"),
                 ser(p4_n2_q0, p4_n2_lo, p4_n2_hi, p4_n2_q0b, p4_n2_lob, p4_n2_hib, "sq"),
                 ser(p4_liqD_q0, p4_liqD_lo, p4_liqD_hi, p4_liqD_q0b, p4_liqD_lob, p4_liqD_hib, "tri")],
         fits=[(p4_fitA_q, p4_fitA_r, "solid"), (p4_fitB_q, p4_fitB_r, "solid"),
               (p4_fitC_q, p4_fitC_r, "dot"), (p4_fitD_q, p4_fitD_r, "solid")],
         title=(panel_titles[3], 1067, 619),
         labels=[(liq, 1162, 734), (vap, 1161, 792), (n2, 1168, 853), (liq, 1168, 880)],
         ylab=(775, 761), xlab=(1012, 945)),
]

markers = {
    "tri": dict(symbol="triangle-up-open", size=8, color="#000000", line=dict(width=1.1)),
    "circ": dict(symbol="circle-open", size=8, color="#8e8e8e", line=dict(width=1)),
    "sq": dict(symbol="square-open", size=7, color="#666666", line=dict(width=1)),
}

fig = go.Figure()
annotations = []
shapes = []

y_major = [10.0 ** e for e in y_tick_exps]
y_major_text = ["10<sup>%d</sup>" % e for e in y_tick_exps]
y_minor = [m * 10.0 ** e for e in range(-6, 8) for m in range(1, 10)
           if not (m == 1 and e in y_tick_exps)]
x_minor = [0.01, 0.02, 0.03, 0.05, 0.06, 0.07, 0.09, 0.10, 0.11]

for i, p in enumerate(panels):
    xa = "x" if i == 0 else "x%d" % (i + 1)
    ya = "y" if i == 0 else "y%d" % (i + 1)
    for s in p["series"]:
        i0 = Q_LO.index(s["q0"])
        qa = Q_LO[i0:i0 + len(s["lo"])] + Q_HI[:len(s["hi"])]
        ra = s["lo"] + s["hi"]
        j0 = Q_LO_B.index(s["q0b"])
        qb = Q_LO_B[j0:j0 + len(s["lob"])] + Q_HI_B[:len(s["hib"])]
        rb = s["lob"] + s["hib"]
        fig.add_trace(go.Scatter(x=qa + qb, y=[10.0 ** v for v in ra + rb], mode="markers",
                                 marker=markers[s["kind"]], xaxis=xa, yaxis=ya,
                                 showlegend=False, hoverinfo="skip"))
    for fq, fr, dash in p["fits"]:
        fig.add_trace(go.Scatter(x=fq, y=[10.0 ** v for v in fr], mode="lines",
                                 line=dict(color="black", width=1.2, dash=dash),
                                 xaxis=xa, yaxis=ya, showlegend=False, hoverinfo="skip"))

    axis_x = dict(domain=[fx(p["xd"][0]), fx(p["xd"][1])], range=[p["xr"], 0.12],
                  anchor=ya, showline=True, linecolor="black", linewidth=1.5, showgrid=False,
                  zeroline=False, ticks="inside", ticklen=8, tickwidth=1.2, tickcolor="black",
                  tickmode="array", tickvals=x_tick_vals, ticktext=p["ticks"],
                  tickfont=dict(family=SERIF, size=19, color="black"),
                  minor=dict(tickmode="array", tickvals=x_minor, ticks="inside", ticklen=4,
                             tickwidth=1, tickcolor="black"))
    axis_y = dict(domain=[fy(p["yd"][1]), fy(p["yd"][0])], type="log", range=[-6, p["yt"]],
                  anchor=xa, showline=True, linecolor="black", linewidth=1.5, showgrid=False,
                  zeroline=False, ticks="inside", ticklen=6, tickwidth=1.2, tickcolor="black",
                  tickmode="array", tickvals=y_major, ticktext=y_major_text,
                  tickfont=dict(family=SERIF, size=19, color="black"),
                  minor=dict(tickmode="array", tickvals=y_minor, ticks="inside", ticklen=3,
                             tickwidth=1, tickcolor="black"))
    fig.update_layout(**{("xaxis" if i == 0 else "xaxis%d" % (i + 1)): axis_x,
                         ("yaxis" if i == 0 else "yaxis%d" % (i + 1)): axis_y})

    t, tx, ty = p["title"]
    annotations.append(dict(text="<b>%s</b>" % t, x=fx(tx), y=fy(ty), xref="paper", yref="paper",
                            xanchor="left", yanchor="middle", showarrow=False,
                            font=dict(family=SERIF, size=16, color="black")))
    for txt, lx, ly in p["labels"]:
        annotations.append(dict(text=txt, x=fx(lx), y=fy(ly), xref="paper", yref="paper",
                                xanchor="left", yanchor="middle", showarrow=False,
                                font=dict(family=SERIF, size=15, color="black")))
    annotations.append(dict(text="Reflectivity", x=fx(p["ylab"][0]), y=fy(p["ylab"][1]),
                            xref="paper", yref="paper", textangle=-90, showarrow=False,
                            xanchor="center", yanchor="middle",
                            font=dict(family=SERIF, size=28, color="black")))
    annotations.append(dict(text="Q, Å<sup>-1</sup>", x=fx(p["xlab"][0]), y=fy(p["xlab"][1]),
                            xref="paper", yref="paper", showarrow=False,
                            xanchor="center", yanchor="middle",
                            font=dict(family=SERIF, size=28, color="black")))

# table headers
for txt, cx in zip(col_headers, [387, 1000]):
    annotations.append(dict(text=txt, x=fx(cx), y=fy(47), xref="paper", yref="paper",
                            showarrow=False, xanchor="center", yanchor="middle",
                            font=dict(family=SANS, size=28, color="black")))
for txt, cy in zip(row_headers, [318, 770]):
    annotations.append(dict(text=txt, x=fx(66), y=fy(cy), xref="paper", yref="paper",
                            showarrow=False, xanchor="center", yanchor="middle", textangle=-90,
                            font=dict(family=SANS, size=25, color="black")))


# table grid lines
def hline(py, x0, x1, w):
    return dict(type="line", xref="paper", yref="paper", x0=fx(x0), x1=fx(x1), y0=fy(py), y1=fy(py),
                line=dict(color="black", width=w))


def vline(px, y0, y1, w):
    return dict(type="line", xref="paper", yref="paper", x0=fx(px), x1=fx(px), y0=fy(y0), y1=fy(y1),
                line=dict(color="black", width=w))


shapes += [hline(15, 8, 1325, 4), vline(9.5, 14, 1006, 3), vline(101, 14, 1006, 2),
           vline(673, 14, 1006, 2), hline(95, 8, 1325, 2), hline(540, 8, 1325, 2)]

fig.update_layout(width=W, height=H, margin=dict(l=0, r=0, t=0, b=0), paper_bgcolor="white",
                  plot_bgcolor="white", annotations=annotations, shapes=shapes, showlegend=False)

fig.write_html("out.html")
